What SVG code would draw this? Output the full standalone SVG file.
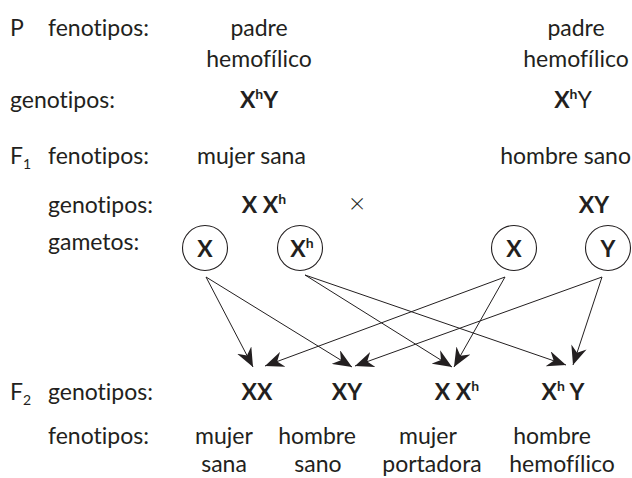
<svg xmlns="http://www.w3.org/2000/svg" width="632" height="478" viewBox="0 0 632 478">
<defs>
<style>
text{font-family:Lato,"Open Sans","DejaVu Sans",sans-serif;font-size:23px;fill:#231f20;font-variant-ligatures:none;font-feature-settings:"liga" 0,"clig" 0}
.b{font-weight:bold}
.m{text-anchor:middle}
.e{text-anchor:end}
.sup{font-size:14px;font-weight:bold}
.sub{font-size:14px}
.g{fill:none;stroke:#231f20;stroke-width:1}
.c{stroke:#231f20;stroke-width:1.1;fill:none}
</style>
<marker id="ah" markerUnits="userSpaceOnUse" markerWidth="20" markerHeight="16" viewBox="0 0 20 16" refX="19" refY="8" orient="auto">
<path d="M0,0 L19,8 L0,16 L6,8 Z" fill="#231f20"/>
</marker>
</defs>
<rect width="632" height="478" fill="#fff"/>

<g id="labels">
<text x="10" y="36">P</text>
<text x="48" y="36">fenotipos:</text>
<text x="10" y="108">genotipos:</text>
<text x="10" y="164">F<tspan class="sub" dy="5">1</tspan></text>
<text x="48" y="164">fenotipos:</text>
<text x="48" y="213">genotipos:</text>
<text x="48" y="250">gametos:</text>
<text x="10" y="400">F<tspan class="sub" dy="5">2</tspan></text>
<text x="48" y="400">genotipos:</text>
<text x="48" y="444">fenotipos:</text>
</g>

<g id="p-left">
<text class="m" x="259" y="36">padre<tspan x="259" dy="31">hemofílico</tspan></text>
<text class="m b" x="259" y="108">X<tspan class="sup" dy="-9">h</tspan><tspan dy="9">Y</tspan></text>
</g>
<g id="p-right">
<text class="m" x="576" y="36">padre<tspan x="576" dy="31">hemofílico</tspan></text>
<text class="m" x="573" y="108"><tspan class="b">X</tspan><tspan class="sup" dy="-9">h</tspan><tspan dy="9">Y</tspan></text>
</g>

<g id="f1-mujer">
<text x="197" y="164">mujer sana</text>
<text class="m b" x="264" y="213">X X<tspan class="sup" dy="-9">h</tspan></text>
</g>
<g id="cross"><text class="m" x="357" y="213" style="font-size:28px;font-weight:300">×</text></g>
<g id="f1-hombre">
<text class="e" x="631" y="164">hombre sano</text>
<text class="m b" x="594" y="213">XY</text>
</g>

<g id="gam-x1"><circle class="c" cx="205" cy="248" r="22.5"/><text class="m b" x="205" y="257">X</text></g>
<g id="gam-xh"><circle class="c" cx="300" cy="248" r="22.5"/><text class="m b" x="302" y="257">X<tspan class="sup" dy="-9">h</tspan></text></g>
<g id="gam-x2"><circle class="c" cx="514" cy="248" r="22.5"/><text class="m b" x="514" y="257">X</text></g>
<g id="gam-y"><circle class="c" cx="608" cy="248" r="22.5"/><text class="m b" x="608" y="257">Y</text></g>

<g id="connectors">
<line class="g" x1="206" y1="277" x2="253" y2="367" marker-end="url(#ah)"/>
<line class="g" x1="206" y1="277" x2="352" y2="367" marker-end="url(#ah)"/>
<line class="g" x1="305" y1="275" x2="452" y2="367" marker-end="url(#ah)"/>
<line class="g" x1="305" y1="275" x2="566" y2="365" marker-end="url(#ah)"/>
<line class="g" x1="505" y1="277" x2="265" y2="366" marker-end="url(#ah)"/>
<line class="g" x1="505" y1="277" x2="454" y2="367" marker-end="url(#ah)"/>
<line class="g" x1="602" y1="277" x2="355" y2="366" marker-end="url(#ah)"/>
<line class="g" x1="602" y1="277" x2="573" y2="365" marker-end="url(#ah)"/>
</g>

<g id="f2-xx">
<text class="m b" x="257" y="400">XX</text>
<text class="m" x="224" y="444">mujer</text>
<text class="m" x="224" y="472">sana</text>
</g>
<g id="f2-xy">
<text class="m b" x="347" y="400">XY</text>
<text class="m" x="317" y="444">hombre</text>
<text class="m" x="318" y="472">sano</text>
</g>
<g id="f2-xxh">
<text class="m b" x="457" y="400">X X<tspan class="sup" dy="-9">h</tspan></text>
<text class="m" x="428" y="444">mujer</text>
<text class="m" x="432" y="472">portadora</text>
</g>
<g id="f2-xhy">
<text class="m b" x="563" y="400">X<tspan class="sup" dy="-9">h</tspan><tspan dy="9"> Y</tspan></text>
<text class="m" x="552" y="444">hombre</text>
<text class="m" x="562" y="472">hemofílico</text>
</g>
</svg>
